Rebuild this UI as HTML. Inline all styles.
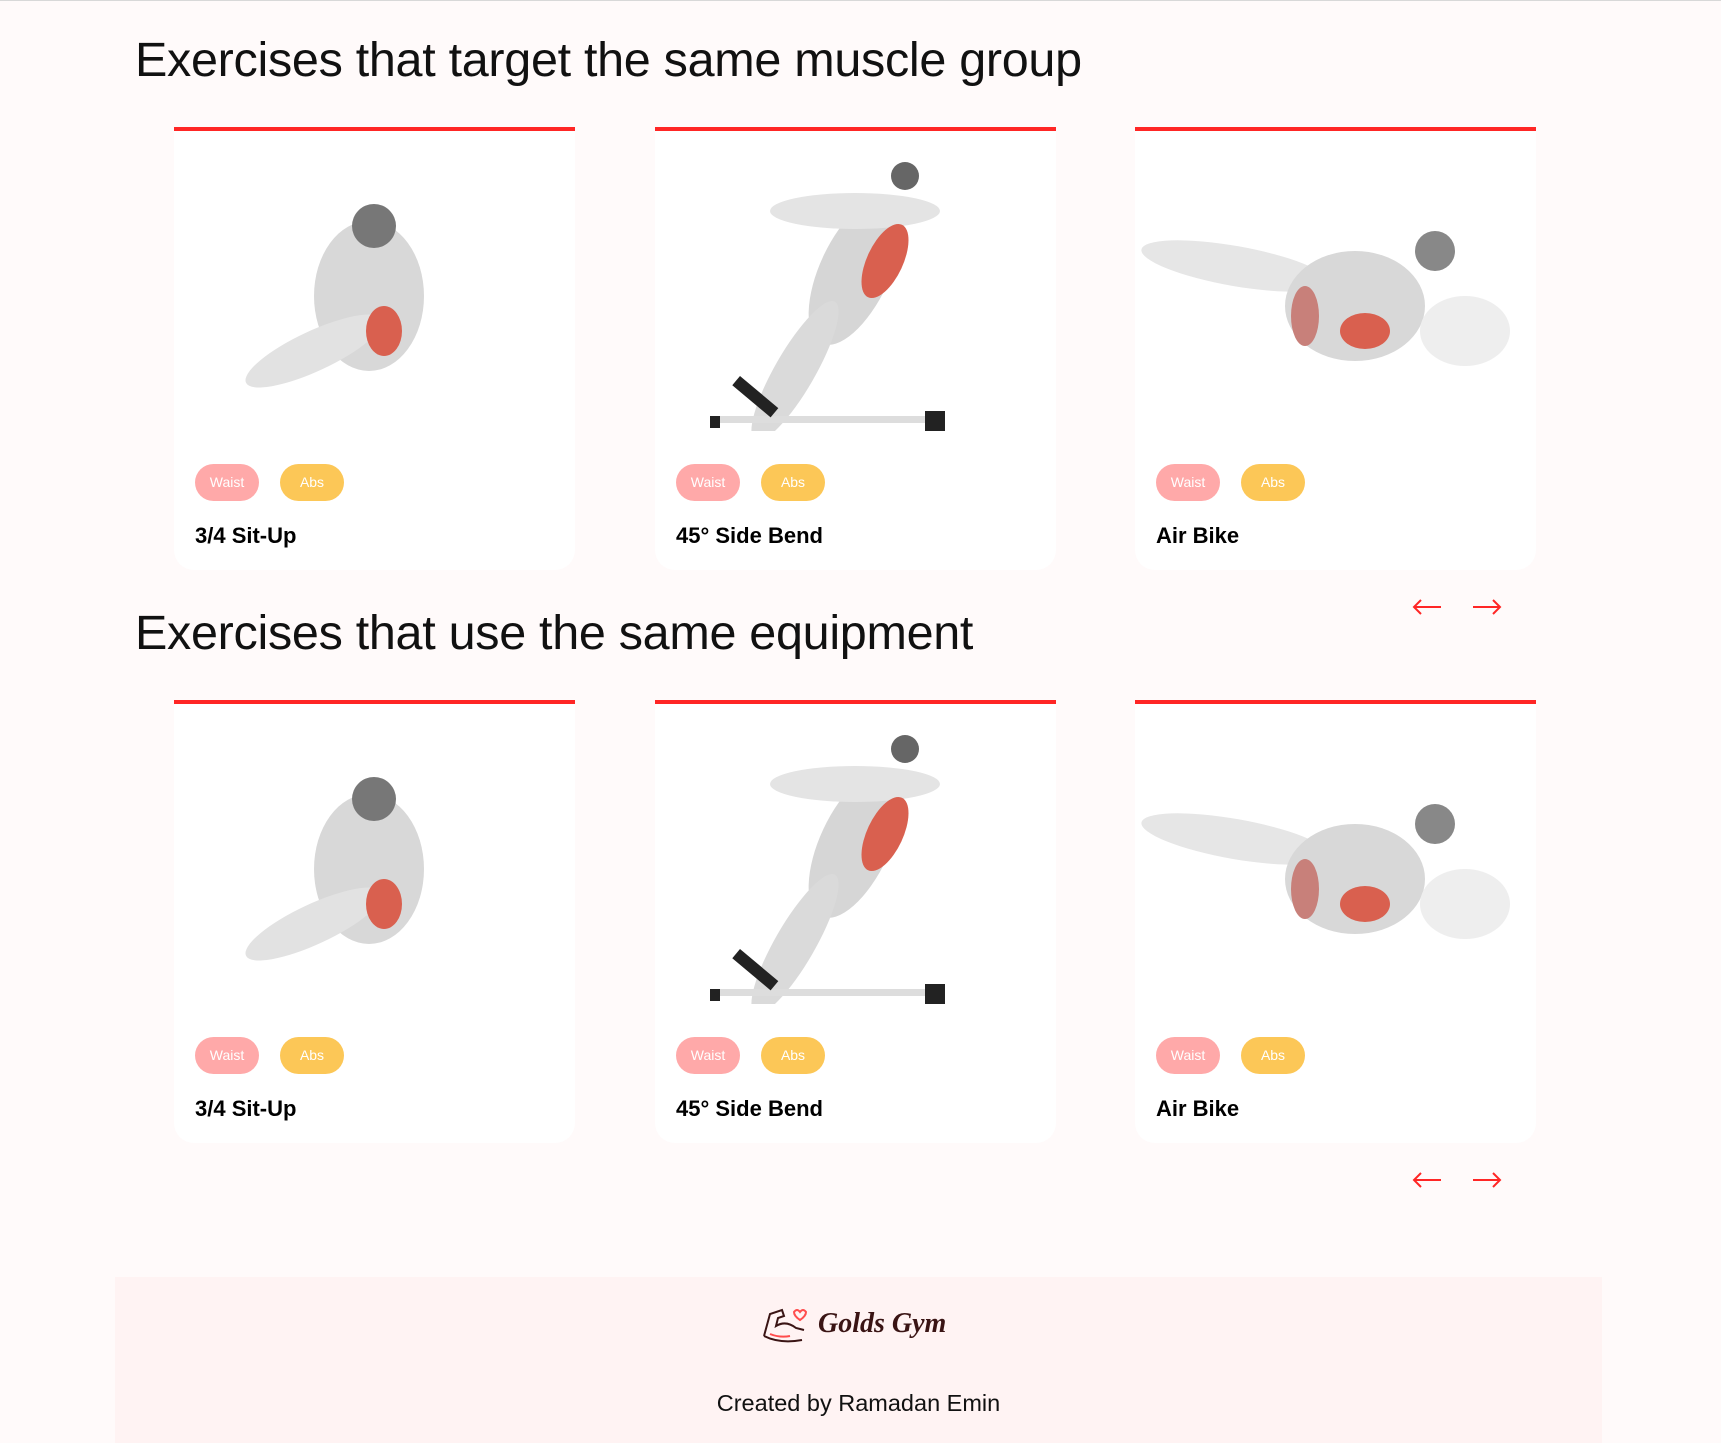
<!DOCTYPE html>
<html><head><meta charset="utf-8"><style>
*{margin:0;padding:0;box-sizing:border-box}
body{width:1721px;height:1443px;background:#fffafa;font-family:"Liberation Sans",Arial,sans-serif;position:relative;overflow:hidden}
.topline{position:absolute;left:0;top:0;width:1721px;height:1px;background:#d8d8d8}
h2{position:absolute;left:135px;font-weight:400;font-size:48.5px;color:#111;white-space:nowrap;letter-spacing:-0.3px}
.card{position:absolute;width:401px;height:443px;background:#fff;border-top:4px solid #ff2625;border-bottom-left-radius:20px;border-bottom-right-radius:20px}
.card svg{position:absolute;left:0;top:0}
.tag{position:absolute;top:333px;height:37px;border-radius:19px;color:#fff;font-size:14px;line-height:37px;text-align:center}
.waist{left:21px;width:64px;background:#ffa9a9}
.abs{left:106px;width:64px;background:#fcc757}
.title{position:absolute;left:21px;top:392px;font-size:22px;font-weight:700;color:#000}
.arrow{position:absolute;width:32px;height:20px}
.footer{position:absolute;left:115px;top:1277px;width:1487px;height:166px;background:#fff3f3}
</style></head><body>
<div class="topline"></div>

<h2 style="top:32px">Exercises that target the same muscle group</h2>
<h2 style="top:605px">Exercises that use the same equipment</h2>

<div id="cards"></div>

<div class="footer">
  <div style="position:absolute;left:645px;top:27px;width:220px;height:40px">
    <svg width="50" height="40" viewBox="0 0 50 40">
      <path d="M4 32 L10 10 L22 6 L24 12 L18 14 L16 22 Q26 16 36 24 L44 26 M4 32 Q20 40 42 36" fill="none" stroke="#3a1414" stroke-width="2"/>
      <path d="M10 30 Q20 34 30 32" fill="none" stroke="#ff4d4d" stroke-width="2"/>
      <path d="M34 8 q3 -4 6 0 q3 -4 6 0 q0 4 -6 8 q-6 -4 -6 -8z" fill="none" stroke="#ff4d4d" stroke-width="2"/>
    </svg>
    <span style="position:absolute;left:58px;top:4px;font-family:'Liberation Serif',serif;font-style:italic;font-weight:700;font-size:28px;color:#3a1414;white-space:nowrap">Golds Gym</span>
  </div>
  <div style="position:absolute;left:0;width:1487px;top:113px;text-align:center;font-size:23.5px;color:#111">Created by Ramadan Emin</div>
</div>

<script>
const sectionTops = [127, 700];
const cardLefts = [174, 655, 1135];
const names = ['3/4 Sit-Up', '45° Side Bend', 'Air Bike'];
const figs = [
 '<ellipse cx="195" cy="165" rx="55" ry="75" fill="#d8d8d8"/><ellipse cx="140" cy="220" rx="75" ry="20" transform="rotate(-25 140 220)" fill="#e2e2e2"/><circle cx="200" cy="95" r="22" fill="#777"/><ellipse cx="210" cy="200" rx="18" ry="25" fill="#d9604f"/>',
 '<ellipse cx="200" cy="140" rx="35" ry="80" transform="rotate(25 200 140)" fill="#d6d6d6"/><ellipse cx="140" cy="240" rx="20" ry="80" transform="rotate(30 140 240)" fill="#dadada"/><ellipse cx="200" cy="80" rx="85" ry="18" fill="#e4e4e4"/><circle cx="250" cy="45" r="14" fill="#666"/><ellipse cx="230" cy="130" rx="18" ry="40" transform="rotate(25 230 130)" fill="#d9604f"/><rect x="55" y="285" width="230" height="7" fill="#ddd"/><rect x="55" y="285" width="10" height="12" fill="#222"/><rect x="270" y="280" width="20" height="22" fill="#222"/><rect x="85" y="245" width="50" height="12" transform="rotate(40 85 245)" fill="#222"/>',
 '<ellipse cx="100" cy="135" rx="95" ry="20" transform="rotate(10 100 135)" fill="#e6e6e6"/><ellipse cx="220" cy="175" rx="70" ry="55" fill="#d8d8d8"/><ellipse cx="330" cy="200" rx="45" ry="35" fill="#eeeeee"/><circle cx="300" cy="120" r="20" fill="#888"/><ellipse cx="230" cy="200" rx="25" ry="18" fill="#d9604f"/><ellipse cx="170" cy="185" rx="14" ry="30" fill="#c8807a"/>'
];
sectionTops.forEach((top, s) => {
  cardLefts.forEach((left, i) => {
    const c = document.createElement('div');
    c.className = 'card';
    c.style.left = left + 'px';
    c.style.top = top + 'px';
    
    
    c.innerHTML = '<svg width="401" height="300" viewBox="0 0 401 300">' + figs[i] + '</svg>' +
      '<div class="tag waist">Waist</div><div class="tag abs">Abs</div><div class="title">' + names[i] + '</div>';
    document.getElementById('cards').appendChild(c);
    const svg = c.querySelector('svg');
    
    
    const w = c.querySelector('.waist');
    
    
    const a = c.querySelector('.abs');
    
    
    const t = c.querySelector('.title');
    
    
  });
  ['left', 'right'].forEach((dir, j) => {
    const ar = document.createElement('div');
    ar.className = 'arrow';
    ar.style.left = (1411 + j * 60) + 'px';
    ar.style.top = (top + 470) + 'px';
    
    
    ar.innerHTML = dir === 'left'
      ? '<svg width="32" height="20"><path d="M30 10H3M10 3L3 10L10 17" fill="none" stroke="#ff2625" stroke-width="2"/></svg>'
      : '<svg width="32" height="20"><path d="M2 10H29M22 3L29 10L22 17" fill="none" stroke="#ff2625" stroke-width="2"/></svg>';
    document.body.appendChild(ar);
  });
});
</script>
</body></html>
